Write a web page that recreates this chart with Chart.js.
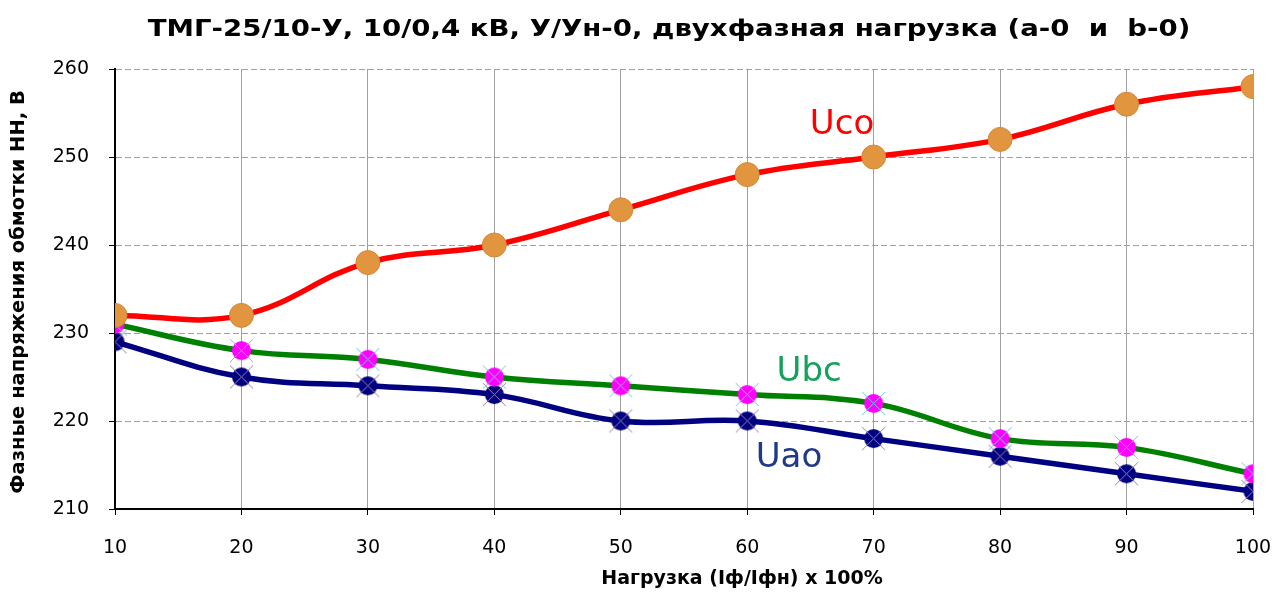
<!DOCTYPE html>
<html>
<head>
<meta charset="utf-8">
<script src="https://cdn.jsdelivr.net/npm/chart.js@4.4.0/dist/chart.umd.min.js"></script>
<style>
  html, body { margin: 0; padding: 0; background: #fff; }
  #wrap { width: 1272px; height: 595px; }
</style>
</head>
<body>
<div id="wrap"><canvas id="chart" width="1272" height="595"></canvas></div>
<script>
const loads = [10, 20, 30, 40, 50, 60, 70, 80, 90, 100];
const uco = [232, 232, 238, 240, 244, 248, 250, 252, 256, 258];
const ubc = [231, 228, 227, 225, 224, 223, 222, 218, 217, 214];
const uao = [229, 225, 224, 223, 220, 220, 218, 216, 214, 212];

const titleText = "ТМГ-25/10-У, 10/0,4 кВ, У/Ун-0, двухфазная нагрузка (а-0  и  b-0)";
const xTitle = "Нагрузка (Iф/Iфн) x 100%";
const yTitle = "Фазные напряжения обмотки НН, В";

// marker: filled circle with a thin X across it
function crossDot(fill, cross, r) {
  const c = document.createElement("canvas");
  const s = r * 2 + 6;
  c.width = s; c.height = s;
  const g = c.getContext("2d");
  const m = s / 2;
  g.fillStyle = fill;
  g.beginPath(); g.arc(m, m, r, 0, Math.PI * 2); g.fill();
  g.strokeStyle = cross; g.lineWidth = 1;
  g.beginPath();
  g.moveTo(m - r - 2, m - r - 2); g.lineTo(m + r + 2, m + r + 2);
  g.moveTo(m + r + 2, m - r - 2); g.lineTo(m - r - 2, m + r + 2);
  g.stroke();
  return c;
}

const seriesLabels = [
  { text: "Uco", x: 67.5, y: 253.6, color: "#FF0000" },
  { text: "Ubc", x: 64.9, y: 225.6, color: "#16A05A" },
  { text: "Uao", x: 63.3, y: 215.8, color: "#1F3A8A" },
];

// titles and series names drawn on the canvas
const textPlugin = {
  id: "texts",
  afterDatasetsDraw(chart) {
    const { ctx, scales, chartArea } = chart;
    ctx.save();
    ctx.textAlign = "center";
    ctx.textBaseline = "middle";

    ctx.font = "34px 'DejaVu Sans', sans-serif";
    seriesLabels.forEach((l) => {
      ctx.fillStyle = l.color;
      ctx.fillText(l.text, scales.x.getPixelForValue(l.x), scales.y.getPixelForValue(l.y));
    });

    ctx.fillStyle = "#000";
    // chart title, a bit wide like the original
    ctx.save();
    ctx.translate(669, 30);
    ctx.scale(1.2, 1);
    ctx.font = "bold 23px 'DejaVu Sans', sans-serif";
    ctx.fillText(titleText, 0, 0);
    ctx.restore();

    ctx.font = "bold 19px 'DejaVu Sans', sans-serif";
    ctx.fillText(xTitle, 742, 579);

    ctx.save();
    ctx.translate(19, (chartArea.top + chartArea.bottom) / 2 + 3);
    ctx.rotate(-Math.PI / 2);
    ctx.font = "bold 19.5px 'DejaVu Sans', sans-serif";
    ctx.fillText(yTitle, 0, 0);
    ctx.restore();

    ctx.restore();
  },
};

const toPts = (arr) => arr.map((v, i) => ({ x: loads[i], y: v }));
const tickFont = { family: "'DejaVu Sans', sans-serif", size: 19 };

new Chart(document.getElementById("chart").getContext("2d"), {
  type: "line",
  data: {
    datasets: [
      { label: "Uco", data: toPts(uco), borderColor: "#FF0000", borderWidth: 5.5, tension: 0.4,
        pointRadius: 12, pointBackgroundColor: "#E2953F", pointBorderColor: "#D08838", pointBorderWidth: 1, order: 1 },
      { label: "Ubc", data: toPts(ubc), borderColor: "#008000", borderWidth: 5.5, tension: 0.4,
        pointStyle: crossDot("#FF00FF", "#66CCDD", 9.5), order: 2 },
      { label: "Uao", data: toPts(uao), borderColor: "#000080", borderWidth: 5.5, tension: 0.4,
        pointStyle: crossDot("#000080", "#9A7FB0", 9.5), order: 3 },
    ],
  },
  options: {
    responsive: false,
    animation: false,
    layout: { padding: { right: 19, top: 69 } },
    plugins: {
      legend: { display: false },
      tooltip: { enabled: false },
      title: { display: false },
    },
    scales: {
      x: {
        type: "linear", min: 10, max: 100,
        ticks: { stepSize: 10, color: "#000", font: tickFont, padding: 22 },
        grid: { color: "#A0A0A0", tickColor: "#000", tickLength: 6 },
        border: { color: "#000", width: 2 },
        afterFit: (s) => { s.height = 86; s.paddingLeft = 0; s.paddingRight = 0; },
      },
      y: {
        min: 210, max: 260,
        ticks: { stepSize: 10, color: "#000", font: tickFont, padding: 20 },
        grid: { color: "#A0A0A0", tickColor: "#000", tickLength: 6, tickBorderDash: [] },
        border: { color: "#000", width: 2, dash: [6, 3] },
        afterFit: (s) => { s.width = 115; s.paddingTop = 0; s.paddingBottom = 0; },
      },
    },
  },
  plugins: [textPlugin],
});
</script>
</body>
</html>
